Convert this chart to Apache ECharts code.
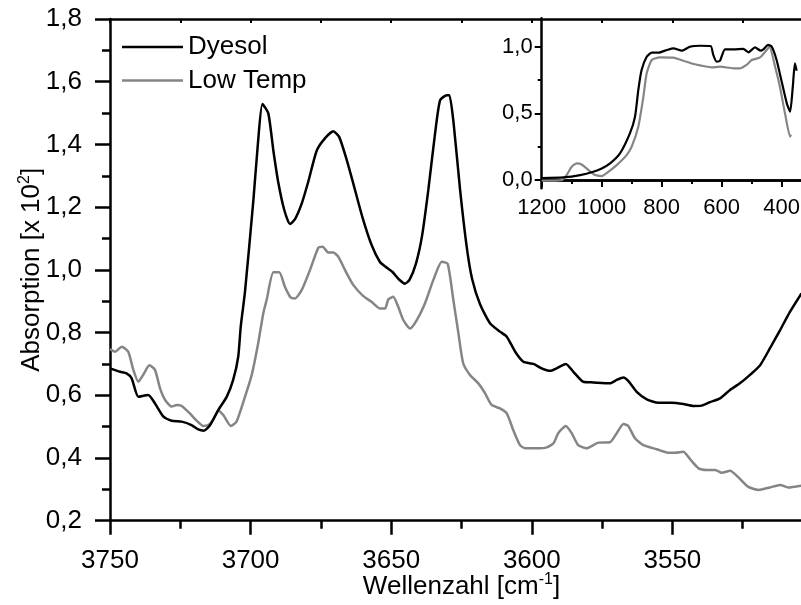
<!DOCTYPE html>
<html>
<head>
<meta charset="utf-8">
<script src="https://cdn.jsdelivr.net/npm/echarts@6/dist/echarts.min.js"></script>
<style>
html, body { margin: 0; padding: 0; background: #fff; }
#container { width: 801px; height: 605px; }
</style>
</head>
<body>
<div id="container"></div>
<script>
// Hauptbild: Wellenzahl [cm-1] / Absorption
var dyesolX = [3750, 3746.4, 3744.1, 3742.3, 3739.9, 3736.4, 3734, 3731, 3728.1, 3724.5, 3721, 3718.6, 3716.6, 3714.4, 3711.5, 3708.5, 3706.2, 3704.4, 3703.5, 3702, 3699, 3697.3, 3695.8, 3693.7, 3691.9, 3690.1, 3688, 3686, 3684.2, 3681.8, 3679.5, 3676.5, 3673.5, 3670.6, 3668.5, 3665.8, 3663.5, 3660.3, 3657, 3654, 3652, 3649.6, 3647.3, 3645.1, 3643.5, 3641.2, 3639, 3636.8, 3634.4, 3632.6, 3630.2, 3629.3, 3627.8, 3625.5, 3623.1, 3621.2, 3618.4, 3614.8, 3611.3, 3608.9, 3605.9, 3603, 3599.4, 3596.5, 3593.5, 3591.2, 3587.9, 3585.2, 3581.7, 3578.1, 3572.2, 3569.8, 3567.4, 3565.7, 3562.7, 3559.1, 3555, 3550.3, 3546.1, 3542.6, 3539.6, 3536.6, 3533.1, 3529.5, 3526, 3522.4, 3518.8, 3515.3, 3511.7, 3508.2, 3504.1];
var dyesolY = [0.686, 0.675, 0.670, 0.654, 0.595, 0.601, 0.574, 0.532, 0.519, 0.516, 0.505, 0.491, 0.487, 0.505, 0.553, 0.595, 0.649, 0.723, 0.82, 0.93, 1.223, 1.414, 1.529, 1.499, 1.380, 1.276, 1.19, 1.146, 1.162, 1.212, 1.281, 1.38, 1.42, 1.442, 1.424, 1.350, 1.276, 1.17, 1.08, 1.025, 1.010, 0.994, 0.97, 0.956, 0.968, 1.02, 1.11, 1.255, 1.435, 1.541, 1.557, 1.557, 1.467, 1.255, 1.07, 0.97, 0.89, 0.829, 0.803, 0.787, 0.739, 0.707, 0.700, 0.686, 0.678, 0.686, 0.700, 0.675, 0.643, 0.641, 0.638, 0.649, 0.657, 0.646, 0.611, 0.587, 0.576, 0.576, 0.572, 0.566, 0.567, 0.578, 0.590, 0.617, 0.638, 0.665, 0.696, 0.750, 0.808, 0.866, 0.925];

var lowTempX = [3750, 3748.2, 3745.8, 3743.5, 3741.7, 3739.9, 3738.2, 3736, 3734, 3732.2, 3730.4, 3728.1, 3726.3, 3724.5, 3721.6, 3719.2, 3716.8, 3715, 3713.3, 3711.5, 3709.7, 3707, 3705, 3702, 3699.6, 3697.3, 3695.5, 3694.3, 3691.9, 3689.8, 3687.8, 3685.8, 3684.2, 3681.8, 3678.9, 3675.9, 3674.4, 3672.4, 3670.6, 3668.8, 3666.4, 3663.5, 3660, 3657, 3654, 3652.2, 3651, 3649.3, 3647.5, 3645.7, 3643.3, 3640.9, 3638, 3635, 3632, 3629.9, 3627.9, 3626.1, 3624.4, 3622, 3619, 3616.6, 3614.3, 3611.3, 3608.9, 3606.6, 3604.2, 3602.4, 3598.3, 3594.7, 3592.3, 3590.6, 3587.9, 3585.8, 3583.5, 3580.5, 3576.3, 3572.2, 3569.8, 3567.4, 3565.7, 3563.3, 3560.3, 3555.6, 3551.5, 3549, 3546.1, 3543.7, 3540.7, 3537.7, 3534.8, 3532.4, 3529.5, 3526.5, 3523, 3519.4, 3515.3, 3511.7, 3508.8, 3504.1];
var lowTempY = [0.747, 0.739, 0.755, 0.739, 0.681, 0.643, 0.665, 0.696, 0.681, 0.622, 0.585, 0.564, 0.569, 0.566, 0.542, 0.519, 0.502, 0.505, 0.523, 0.551, 0.537, 0.502, 0.516, 0.595, 0.665, 0.766, 0.861, 0.904, 0.992, 0.992, 0.946, 0.912, 0.909, 0.936, 0.999, 1.071, 1.074, 1.055, 1.055, 1.042, 0.999, 0.952, 0.917, 0.898, 0.877, 0.877, 0.906, 0.914, 0.882, 0.840, 0.813, 0.840, 0.893, 0.968, 1.026, 1.019, 0.904, 0.798, 0.702, 0.665, 0.638, 0.606, 0.569, 0.558, 0.542, 0.489, 0.441, 0.431, 0.431, 0.434, 0.447, 0.479, 0.502, 0.479, 0.441, 0.431, 0.449, 0.450, 0.479, 0.508, 0.502, 0.463, 0.441, 0.428, 0.417, 0.417, 0.420, 0.396, 0.367, 0.362, 0.362, 0.353, 0.359, 0.338, 0.308, 0.298, 0.306, 0.314, 0.306, 0.312];

// Einsatz: Wellenzahl 1200..400
var insetDyesolX = [1200, 1128, 1072, 1028, 1000, 972, 939, 906, 889, 878, 867, 850, 833, 811, 783, 761, 733, 706, 672, 637, 628, 617, 606, 589, 561, 528, 511, 489, 470, 461, 445, 433, 417, 400, 383, 372, 363, 356, 350];
var insetDyesolY = [0.015, 0.02, 0.037, 0.062, 0.087, 0.125, 0.2, 0.35, 0.475, 0.675, 0.825, 0.925, 0.955, 0.955, 0.975, 0.988, 0.97, 1.0, 1.007, 1.005, 0.938, 0.888, 0.893, 0.98, 0.98, 0.983, 0.958, 0.995, 0.97, 0.98, 1.013, 1.0, 0.9, 0.737, 0.575, 0.512, 0.7, 0.875, 0.82];

var insetLowTempX = [1200, 1172, 1133, 1117, 1100, 1083, 1067, 1044, 1022, 1000, 978, 950, 917, 900, 878, 861, 850, 833, 806, 761, 728, 694, 661, 633, 606, 561, 539, 517, 500, 472, 450, 441, 422, 406, 389, 372, 369];
var insetLowTempY = [-0.005, -0.005, 0.0, 0.037, 0.1, 0.125, 0.117, 0.075, 0.037, 0.03, 0.062, 0.112, 0.187, 0.25, 0.4, 0.625, 0.8, 0.9, 0.92, 0.918, 0.895, 0.87, 0.855, 0.845, 0.85, 0.838, 0.838, 0.863, 0.9, 0.92, 0.975, 1.0, 0.85, 0.7, 0.5, 0.325, 0.34];

var seriesNames = ['Dyesol', 'Low Temp'];

var FONT = "'Liberation Sans', Arial, sans-serif";

function zip(xs, ys) {
	var arr = [];
	for (var i = 0; i < xs.length; i++) {
		arr.push([xs[i], ys[i]]);
	}
	return arr;
}

function komma(v) {
	return v.toFixed(1).replace('.', ',');
}

function plain(v) {
	return String(v);
}

var black = '#000000';
var grey = '#858585';

var dom = document.getElementById("container");
var myChart = echarts.init(dom);

var axisLine = { show: true, lineStyle: { color: black, width: 2.5 } };

option = {
	animation: false,
	backgroundColor: '#fff',
	textStyle: { fontFamily: FONT, color: black },
	legend: {
		data: seriesNames,
		orient: 'vertical',
		left: 117,
		top: 27,
		icon: 'rect',
		itemWidth: 61,
		itemHeight: 2.5,
		itemGap: 3.5,
		textStyle: { fontFamily: FONT, fontSize: 26, color: black, lineHeight: 30 }
	},
	grid: [
		{ left: 110, top: 19, right: -12, bottom: 84.3, outerBoundsMode: 'none', containLabel: false },
		{ left: 541.7, top: 18.3, right: -40.7, bottom: 416.7, outerBoundsMode: 'none', containLabel: false }
	],
	xAxis: [
		{
			gridIndex: 0, type: 'value', position: 'bottom',
			min: 3500, max: 3750, interval: 50, inverse: true,
			axisLine: axisLine,
			axisTick: { length: 14, lineStyle: { color: black, width: 2.5 } },
			minorTick: { show: true, splitNumber: 2, length: 8, lineStyle: { color: black, width: 2.5 } },
			axisLabel: { fontFamily: FONT, fontSize: 26, color: black, margin: 27, showMinLabel: false, formatter: plain },
			splitLine: { show: false },
			name: '{t|Wellenzahl [cm}{s|-1}{t|]}',
			nameLocation: 'middle',
			nameGap: 51,
			nameMoveOverlap: false,
			nameTextStyle: {
				rich: {
					t: { fontFamily: FONT, fontSize: 26, color: black, lineHeight: 30 },
					s: { fontFamily: FONT, fontSize: 16, color: black, lineHeight: 18, verticalAlign: 'top' }
				}
			}
		},
		{
			gridIndex: 0, type: 'value', position: 'top',
			min: 3500, max: 3750, interval: 25, inverse: true,
			axisLine: axisLine,
			axisTick: { inside: true, length: 4, lineStyle: { color: black, width: 2 } },
			axisLabel: { show: false },
			splitLine: { show: false }
		},
		{
			gridIndex: 1, type: 'value', position: 'bottom',
			min: 200, max: 1200, interval: 200, inverse: true,
			axisLine: axisLine,
			axisTick: { length: 7, lineStyle: { color: black, width: 2 } },
			minorTick: { show: true, splitNumber: 2, length: 4, lineStyle: { color: black, width: 2 } },
			axisLabel: { fontFamily: FONT, fontSize: 22, color: black, margin: 9, showMinLabel: false, formatter: plain },
			splitLine: { show: false }
		},
		{
			gridIndex: 1, type: 'value', position: 'top',
			min: 200, max: 1200, interval: 100, inverse: true,
			axisLine: axisLine,
			axisTick: { inside: true, length: 3, lineStyle: { color: black, width: 2 } },
			axisLabel: { show: false },
			splitLine: { show: false }
		}
	],
	yAxis: [
		{
			gridIndex: 0, type: 'value', position: 'left',
			min: 0.2, max: 1.8, interval: 0.2,
			axisLine: axisLine,
			axisTick: { length: 15, lineStyle: { color: black, width: 2.5 } },
			minorTick: { show: true, splitNumber: 2, length: 8, lineStyle: { color: black, width: 2.5 } },
			axisLabel: { fontFamily: FONT, fontSize: 26, color: black, margin: 28, formatter: komma },
			splitLine: { show: false },
			name: '{t|Absorption [x 10}{s|2}{t|]}',
			nameLocation: 'middle',
			nameRotate: 90,
			nameGap: 63,
			nameMoveOverlap: false,
			nameTextStyle: {
				rich: {
					t: { fontFamily: FONT, fontSize: 26, color: black, lineHeight: 30 },
					s: { fontFamily: FONT, fontSize: 16, color: black, lineHeight: 18, verticalAlign: 'top' }
				}
			}
		},
		{
			gridIndex: 1, type: 'value', position: 'left',
			min: -0.062, max: 1.213,
			axisLine: axisLine,
			axisTick: { length: 7, customValues: [0, 0.5, 1], lineStyle: { color: black, width: 2 } },
			axisLabel: { fontFamily: FONT, fontSize: 22, color: black, margin: 9, customValues: [0, 0.5, 1], formatter: komma },
			splitLine: { show: false }
		},
		{
			gridIndex: 1, type: 'value', position: 'left',
			min: -0.062, max: 1.213,
			axisLine: { show: false },
			axisTick: { length: 4, customValues: [0.25, 0.75], lineStyle: { color: black, width: 2 } },
			axisLabel: { show: false },
			splitLine: { show: false }
		}
	],
	series: [
		{
			name: 'Dyesol', type: 'line', xAxisIndex: 0, yAxisIndex: 0,
			data: zip(dyesolX, dyesolY), symbol: 'none', z: 3, smooth: 0.2,
			lineStyle: { color: black, width: 2.5 }, itemStyle: { color: black }
		},
		{
			name: 'Low Temp', type: 'line', xAxisIndex: 0, yAxisIndex: 0,
			data: zip(lowTempX, lowTempY), symbol: 'none', z: 2, smooth: 0.2,
			lineStyle: { color: grey, width: 2.5 }, itemStyle: { color: grey }
		},
		{
			name: 'Dyesol', type: 'line', xAxisIndex: 2, yAxisIndex: 1,
			data: zip(insetDyesolX, insetDyesolY), symbol: 'none', z: 3, smooth: 0.2,
			lineStyle: { color: black, width: 2.2 }, itemStyle: { color: black }
		},
		{
			name: 'Low Temp', type: 'line', xAxisIndex: 2, yAxisIndex: 1,
			data: zip(insetLowTempX, insetLowTempY), symbol: 'none', z: 2, smooth: 0.2,
			lineStyle: { color: grey, width: 2.2 }, itemStyle: { color: grey }
		}
	]
};

if (option && typeof option === "object") {
	myChart.setOption(option, true);
}
</script>
</body>
</html>
